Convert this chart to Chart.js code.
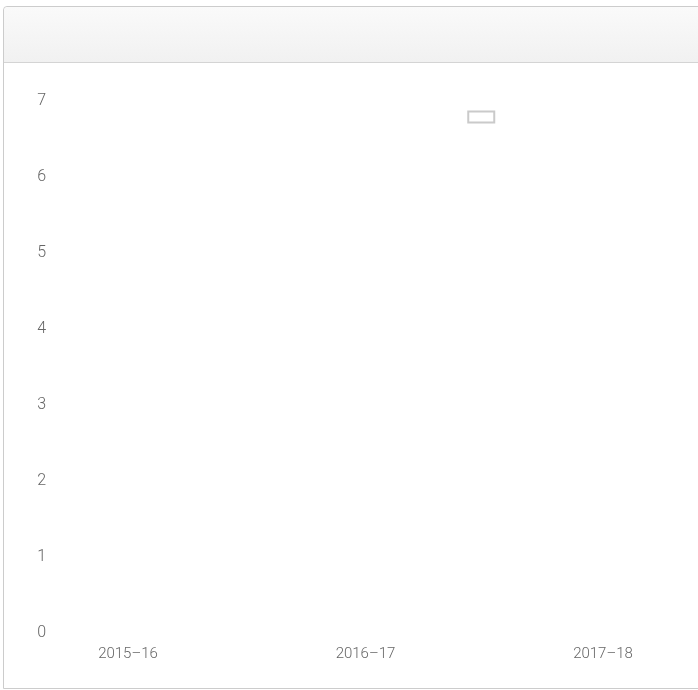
<!DOCTYPE html>
<html>
<head>
<meta charset="utf-8">
<script src="https://cdn.jsdelivr.net/npm/chart.js@4/dist/chart.umd.min.js"></script>
<style>
  html, body { margin: 0; padding: 0; background: #fff; overflow: hidden; }
  .panel {
    position: absolute; left: 3px; top: 6px;
    width: 1000px; height: 681px;
    border: 1px solid #cccccc; border-radius: 4px 0 0 0;
    background: #fff;
  }
  .panel-head {
    height: 55px;
    background: linear-gradient(#fafafa, #f1f1f1);
    border-bottom: 1px solid #d4d4d4;
    border-radius: 4px 0 0 0;
  }
  .chart-box { position: relative; width: 1000px; height: 625px; }
</style>
</head>
<body>
<div class="panel">
  <div class="panel-head"></div>
  <div class="chart-box"><canvas id="chart"></canvas></div>
</div>
<script>
// categories along the x axis (the last slot runs off the right edge, blank)
const categories = ['2015\u201316', '2016\u201317', '2017\u201318', ''];
// no values are drawn in the reference
const values = [null, null, null];
const yTicks = [0, 1, 2, 3, 4, 5, 6, 7];

// legend sits inside the plot, centred at the top of the chart area
const legendInArea = {
  id: 'legendInArea',
  afterLayout(chart) {
    const lg = chart.legend;
    const area = chart.chartArea;
    const w = lg.legendHitBoxes.length ? lg.legendHitBoxes[0].width : 0;
    lg.top = area.top;
    lg.bottom = area.bottom;
    lg.right = area.right;
    lg.left = (area.left + area.right - w) / 2 - lg.options.labels.padding;
  }
};

const ctx = document.getElementById('chart');

const chart = new Chart(ctx, {
  type: 'bar',
  data: {
    labels: categories,
    datasets: [
      {
        label: '',
        data: values,
        backgroundColor: '#ffffff',
        borderColor: '#cacaca',
        borderWidth: 2
      }
    ]
  },
  options: {
    responsive: true,
    maintainAspectRatio: false,
    animation: false,
    layout: {
      padding: { left: 5.25, right: 44.75, top: 22.4, bottom: 13 }
    },
    scales: {
      x: {
        grid: { display: false, drawTicks: false },
        border: { display: false },
        ticks: {
          color: '#666',
          padding: 12,
          maxRotation: 0,
          font: { family: 'Roboto', weight: 300, size: 15 }
        }
      },
      y: {
        min: yTicks[0],
        max: yTicks[yTicks.length - 1],
        grid: { display: false, drawTicks: false },
        border: { display: false },
        afterFit(scale) { scale.width = 0; },
        ticks: {
          stepSize: 1,
          mirror: true,
          padding: 28,
          color: '#666',
          font: { family: 'Roboto', weight: 300, size: 16 }
        }
      }
    },
    plugins: {
      legend: {
        position: 'chartArea',
        align: 'start',
        labels: {
          boxWidth: 26,
          boxHeight: 11,
          padding: 10.5,
          font: { size: 12 }
        }
      },
      tooltip: { enabled: false }
    }
  },
  plugins: [legendInArea]
});
</script>
</body>
</html>
